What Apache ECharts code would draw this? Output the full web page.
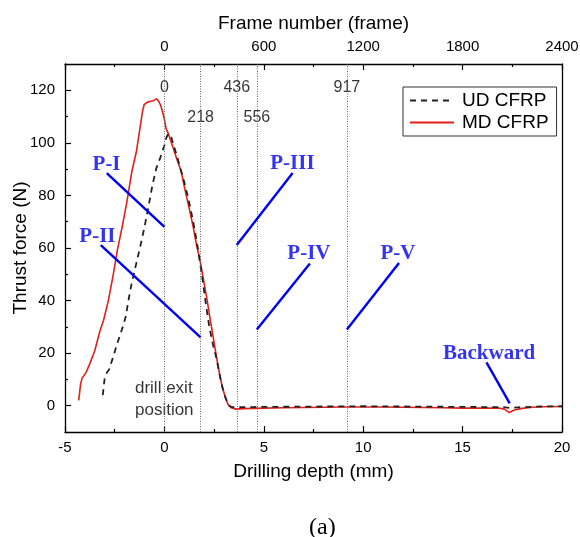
<!DOCTYPE html>
<html><head><meta charset="utf-8">
<script src="https://cdn.jsdelivr.net/npm/echarts@6/dist/echarts.min.js"></script>
<style>html,body{margin:0;padding:0;background:#fff}#c{width:580px;height:537px}</style>
</head><body><div id="c"></div>
<script>
// ---- data ----
const mdDepth = [-4.31,-4.22,-4.14,-4.05,-3.95,-3.75,-3.5,-3.24,-3.06,-2.82,-2.57,-2.37,-2.1,-1.9,-1.64,-1.4,-1.2,-1.1,-1.02,-0.95,-0.85,-0.7,-0.55,-0.4,-0.3,-0.2,-0.1,0.0,0.08,0.2,0.4,0.62,0.85,1.04,1.25,1.45,1.62,1.8,1.95,2.13,2.3,2.5,2.7,2.9,3.05,3.2,3.35,3.6,4.0,5,6,7,8,9,10,11,12,13,14,15,16,16.8,17.1,17.35,17.6,18,18.5,19,20];
const mdForce = [2,8,10.5,10.5,12.5,16,21,28.5,32.5,40,50,59,69,77,89,97,107,112,114.5,113.8,115.5,115.8,116,116.8,116,114.5,112,109,105.5,103.5,99,94,89,82,75,68,61,55,48.5,41,33,24,15,7.5,3.5,0.5,-0.8,-1.3,-1.1,-0.9,-0.8,-0.7,-0.6,-0.5,-0.5,-0.5,-0.6,-0.7,-0.8,-0.9,-0.9,-0.9,-1.3,-2.6,-1.6,-1.0,-0.6,-0.4,-0.3];
const udDepth = [-3.1,-3.0,-2.9,-2.78,-2.6,-2.4,-2.2,-2.07,-1.94,-1.81,-1.65,-1.45,-1.23,-1.0,-0.82,-0.6,-0.4,-0.2,0.0,0.1,0.2,0.35,0.55,0.78,1.0,1.2,1.45,1.67,1.92,2.1,2.26,2.45,2.62,2.8,2.95,3.1,3.25,3.4,3.6,4.5,6,8,10,12,14,16,17,17.4,17.8,19,20];
const udForce = [4,10.8,12.5,13.8,18,23,27.5,30.5,34,40,46.5,53,60,68,75,84,90.5,94.5,99,102,103.5,102,97,91,85,79,70,60.5,48,38,30,23,18,11,6,2.5,0,-0.5,-0.6,-0.5,-0.4,-0.3,-0.2,-0.3,-0.4,-0.5,-0.5,-0.9,-0.6,-0.3,-0.2];

const phaseFrames = ['0','218','436','556','917'];
const phaseDepth = [0, 1.82, 3.64, 4.65, 9.18];
const phaseLabelForce = [120.9, 109.5, 120.9, 109.5, 120.9];

const stageNames = ['P-I','P-II','P-III','P-IV','P-V','Backward'];
const stageTextDepth = [-2.91,-3.37,6.44,7.27,11.75,16.33];
const stageTextForce = [91.6,64.5,92,58,58,19.9];
const stageFromDepth = [-2.90,-3.20,6.45,7.32,11.80,16.2];
const stageFromForce = [88.5,61.1,88.5,54.1,54.3,16.5];
const stageToDepth = [0.0,1.82,3.64,4.65,9.18,17.37];
const stageToForce = [68,26,61.1,29,29,0.9];

const exitNote = 'drill exit\nposition';
const exitNoteDepth = -1.48, exitNoteForce = 2.3;

const depthTicks = [-5,0,5,10,15,20];
const frameTicks = [-600,0,600,1200,1800,2400];
const forceTicks = [0,20,40,60,80,100,120];

// ---- chart ----
const SANS = '"Liberation Sans", Arial, sans-serif';
const SERIF = '"Liberation Serif", "Times New Roman", serif';
const BLUE = '#0000f0';
const zip = (a,b) => a.map((v,i) => [v, b[i]]);

const chart = echarts.init(document.getElementById('c'), null, {renderer:'canvas'});
const axisCommon = {
  axisLine:{show:true, onZero:false, lineStyle:{color:'#000', width:1.3}},
  splitLine:{show:false},
  axisTick:{show:true, inside:true, length:6, lineStyle:{color:'#000', width:1.2}},
  minorTick:{show:true, splitNumber:2, length:3, lineStyle:{color:'#000', width:1.2}},
  axisLabel:{color:'#000', fontSize:15, fontFamily:SANS},
  nameTextStyle:{color:'#000', fontSize:19, fontFamily:SANS},
  nameMoveOverlap:false
};
chart.setOption({
  animation:false,
  backgroundColor:'#fff',
  title:{text:'(a)', left:304, top:511, textStyle:{fontFamily:SERIF, fontSize:24, fontWeight:'normal', color:'#000'}},
  grid:{left:65, right:18, top:64, bottom:105, containLabel:false, outerBoundsMode:'none'},
  legend:{
    data:['UD CFRP','MD CFRP'], orient:'vertical', left:403, top:87,
    borderColor:'#333', borderWidth:1, padding:[4,8,4,6], itemWidth:44, itemHeight:20, itemGap:3,
    itemStyle:{opacity:0},
    textStyle:{fontSize:19, fontFamily:SANS, color:'#000', padding:[0,0,0,3]}
  },
  xAxis:[
    Object.assign({}, axisCommon, {type:'value', position:'bottom', min:depthTicks[0], max:depthTicks[depthTicks.length-1], interval:5,
      name:'Drilling depth (mm)', nameLocation:'middle', nameGap:30,
      axisLabel:Object.assign({}, axisCommon.axisLabel, {margin:8})}),
    Object.assign({}, axisCommon, {type:'value', position:'top', min:frameTicks[0], max:frameTicks[frameTicks.length-1], interval:600,
      name:'Frame number (frame)', nameLocation:'middle', nameGap:31,
      axisLabel:Object.assign({}, axisCommon.axisLabel, {margin:10, formatter:v => v < 0 ? '' : String(v)})})
  ],
  yAxis:[
    Object.assign({}, axisCommon, {type:'value', position:'left', min:-10, max:130, interval:20,
      name:'Thrust force (N)', nameLocation:'middle', nameGap:35,
      axisTick:{show:true, inside:true, length:3, lineStyle:{color:'#000', width:1.2}},
      minorTick:{show:true, splitNumber:2, length:6, lineStyle:{color:'#000', width:1.2}},
      axisLabel:Object.assign({}, axisCommon.axisLabel, {margin:10, customValues:forceTicks})}),
    {type:'value', position:'right', min:-10, max:130, axisLine:{show:true, onZero:false, lineStyle:{color:'#000', width:1.3}},
      axisTick:{show:false}, axisLabel:{show:false}, splitLine:{show:false}}
  ],
  series:[
    {type:'line', name:'phases', data:[], silent:true,
      markLine:{silent:true, symbol:['none','none'], label:{show:false},
        lineStyle:{color:'#666', width:1, type:[1,1.5]},
        data:phaseDepth.map(d => ({xAxis:d}))}},
    {type:'scatter', name:'phaseLabels', silent:true, symbolSize:0,
      data:phaseDepth.map((d,i) => ({value:[d, phaseLabelForce[i]], name:phaseFrames[i]})),
      label:{show:true, position:'inside', formatter:p => p.name, color:'#000', fontSize:16, fontFamily:SANS}},
    {type:'line', name:'UD CFRP', data:zip(udDepth, udForce), symbol:'none', z:4,
      lineStyle:{color:'#222', width:1.8, type:[6,5]}, itemStyle:{color:'#222'}},
    {type:'line', name:'MD CFRP', data:zip(mdDepth, mdForce), symbol:'none', z:3,
      lineStyle:{color:'#e0201b', width:1.6}, itemStyle:{color:'#e0201b'}},
    {type:'lines', name:'pointers', coordinateSystem:'cartesian2d', silent:true, z:5,
      lineStyle:{color:BLUE, width:2.4, opacity:1},
      data:stageNames.map((n,i) => ({coords:[[stageFromDepth[i], stageFromForce[i]], [stageToDepth[i], stageToForce[i]]]}))},
    {type:'scatter', name:'stageLabels', silent:true, symbolSize:0, z:6,
      data:stageNames.map((n,i) => ({value:[stageTextDepth[i], stageTextForce[i]], name:n})),
      label:{show:true, position:'inside', formatter:p => p.name, color:BLUE, fontSize:21, fontWeight:'bold', fontFamily:SERIF}},
    {type:'scatter', name:'exitNote', silent:true, symbolSize:0,
      data:[{value:[exitNoteDepth, exitNoteForce], name:exitNote}],
      label:{show:true, position:'right', distance:0, formatter:p => p.name, color:'#000', fontSize:17, lineHeight:22, fontFamily:SANS}}
  ]
});
</script></body></html>
